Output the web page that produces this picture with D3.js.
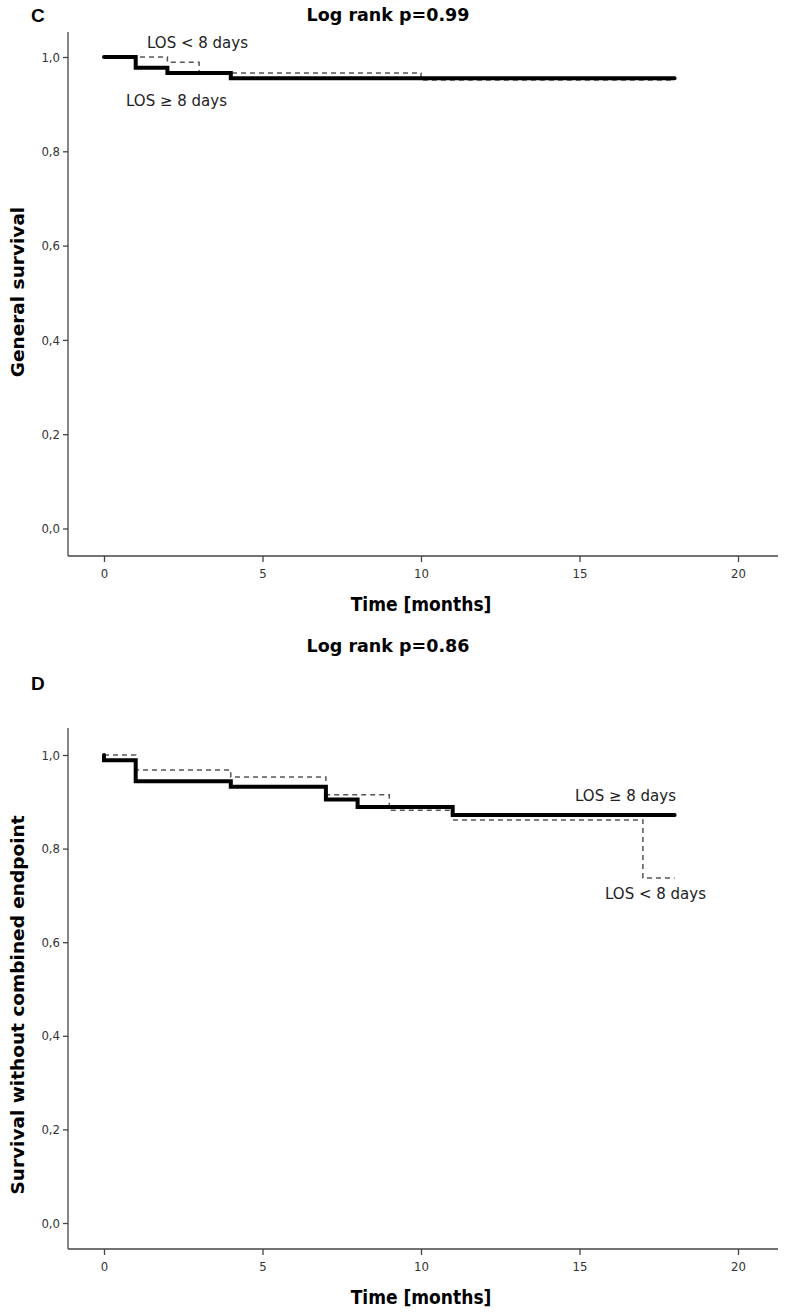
<!DOCTYPE html>
<html>
<head>
<meta charset="utf-8">
<script src="https://cdn.jsdelivr.net/npm/d3@7"></script>
<style>
  body { margin: 0; background: #fff; }
  svg { display: block; }
</style>
</head>
<body>
<svg id="chart" width="793" height="1314"></svg>
<script>
// tick values
const xTicks = [0, 5, 10, 15, 20];
const yTicks = [0, 0.2, 0.4, 0.6, 0.8, 1.0];

// Panel C - general survival
const cLongTime = [0, 1, 2, 4, 18];
const cLongSurv = [1.0, 0.977, 0.966, 0.955, 0.955];
const cShortTime = [0, 2, 3, 10, 18];
const cShortSurv = [1.0, 0.989, 0.966, 0.951, 0.951];

// Panel D - survival without combined endpoint
const dLongTime = [0, 0, 1, 4, 7, 8, 11, 18];
const dLongSurv = [1.0, 0.989, 0.944, 0.932, 0.905, 0.889, 0.872, 0.872];
const dShortTime = [0, 1, 4, 7, 9, 11, 17, 18];
const dShortSurv = [1.0, 0.968, 0.953, 0.915, 0.882, 0.861, 0.737, 0.737];

const svg = d3.select('#chart');
const fmt = d => d.toFixed(1).replace('.', ',');

function panel(opts) {
  const g = svg.append('g');

  const x = d3.scaleLinear().domain([0, 20]).range([104, 738]);
  const y = d3.scaleLinear().domain([0, 1]).range([opts.y0, opts.y1]);

  // axis lines
  g.append('line')
    .attr('x1', 68).attr('x2', 68)
    .attr('y1', opts.axisTop).attr('y2', opts.axisBottom)
    .attr('stroke', '#444').attr('stroke-width', 1.3);
  g.append('line')
    .attr('x1', 68).attr('x2', 778)
    .attr('y1', opts.axisBottom).attr('y2', opts.axisBottom)
    .attr('stroke', '#444').attr('stroke-width', 1.3);

  // y axis
  const ya = g.append('g')
    .attr('transform', 'translate(68,0)')
    .call(d3.axisLeft(y).tickValues(yTicks).tickFormat(fmt).tickSize(5).tickPadding(3));
  ya.select('.domain').remove();

  // x axis
  const xa = g.append('g')
    .attr('transform', `translate(0,${opts.axisBottom})`)
    .call(d3.axisBottom(x).tickValues(xTicks).tickSize(6).tickPadding(7));
  xa.select('.domain').remove();

  g.selectAll('.tick line').attr('stroke', '#444').attr('stroke-width', 1.3);
  g.selectAll('.tick text')
    .attr('fill', '#333')
    .style('font-family', '"Liberation Sans Narrow", "DejaVu Sans Condensed", sans-serif')
    .style('font-size', '13px');

  const line = d3.line()
    .x(d => x(d[0]))
    .y(d => y(d[1]))
    .curve(d3.curveStepAfter);

  // dashed: LOS < 8 days
  g.append('path')
    .datum(d3.zip(opts.shortTime, opts.shortSurv))
    .attr('d', line)
    .attr('fill', 'none')
    .attr('stroke', '#555')
    .attr('stroke-width', 1.5)
    .attr('stroke-dasharray', '5,4');

  // solid: LOS >= 8 days
  g.append('path')
    .datum(d3.zip(opts.longTime, opts.longSurv))
    .attr('d', line)
    .attr('fill', 'none')
    .attr('stroke', '#000')
    .attr('stroke-width', 4)
    .attr('stroke-linecap', 'round');

  // series labels
  g.selectAll('.lbl')
    .data(opts.labels)
    .enter()
    .append('text')
    .attr('x', d => d.x)
    .attr('y', d => d.y)
    .attr('fill', '#222')
    .style('font-family', '"DejaVu Sans", sans-serif')
    .style('font-size', '15px')
    .text(d => d.text);

  // title
  g.append('text')
    .attr('x', 388).attr('y', opts.titleY)
    .attr('text-anchor', 'middle')
    .style('font-family', '"DejaVu Sans", sans-serif')
    .style('font-weight', 'bold')
    .style('font-size', '17.5px')
    .text(opts.title);

  // panel letter
  g.append('text')
    .attr('x', 31).attr('y', opts.letterY)
    .style('font-family', '"Liberation Sans", Arial, sans-serif')
    .style('font-weight', 'bold')
    .style('font-size', '19px')
    .text(opts.letter);

  // x label
  g.append('text')
    .attr('x', 421).attr('y', opts.axisBottom + 55)
    .attr('text-anchor', 'middle')
    .style('font-family', '"Liberation Sans Narrow", "DejaVu Sans Condensed", sans-serif')
    .style('font-weight', 'bold')
    .style('font-size', '19px')
    .text('Time [months]');

  // y label
  g.append('text')
    .attr('transform', `translate(24,${opts.yLabelMid}) rotate(-90)`)
    .attr('text-anchor', 'middle')
    .style('font-family', '"DejaVu Sans", sans-serif')
    .style('font-weight', 'bold')
    .style('font-size', '18.5px')
    .text(opts.yLabel);
}

panel({
  y0: 528.5, y1: 57, axisTop: 32, axisBottom: 556,
  longTime: cLongTime, longSurv: cLongSurv,
  shortTime: cShortTime, shortSurv: cShortSurv,
  labels: [
    { text: 'LOS < 8 days', x: 147, y: 48 },
    { text: 'LOS \u2265 8 days', x: 126, y: 106 }
  ],
  title: 'Log rank p=0.99', titleY: 21,
  letter: 'C', letterY: 22,
  yLabel: 'General survival', yLabelMid: 292
});

panel({
  y0: 1223, y1: 755, axisTop: 728, axisBottom: 1249,
  longTime: dLongTime, longSurv: dLongSurv,
  shortTime: dShortTime, shortSurv: dShortSurv,
  labels: [
    { text: 'LOS \u2265 8 days', x: 575, y: 801 },
    { text: 'LOS < 8 days', x: 605, y: 899 }
  ],
  title: 'Log rank p=0.86', titleY: 652,
  letter: 'D', letterY: 690,
  yLabel: 'Survival without combined endpoint', yLabelMid: 1005
});
</script>
</body>
</html>
